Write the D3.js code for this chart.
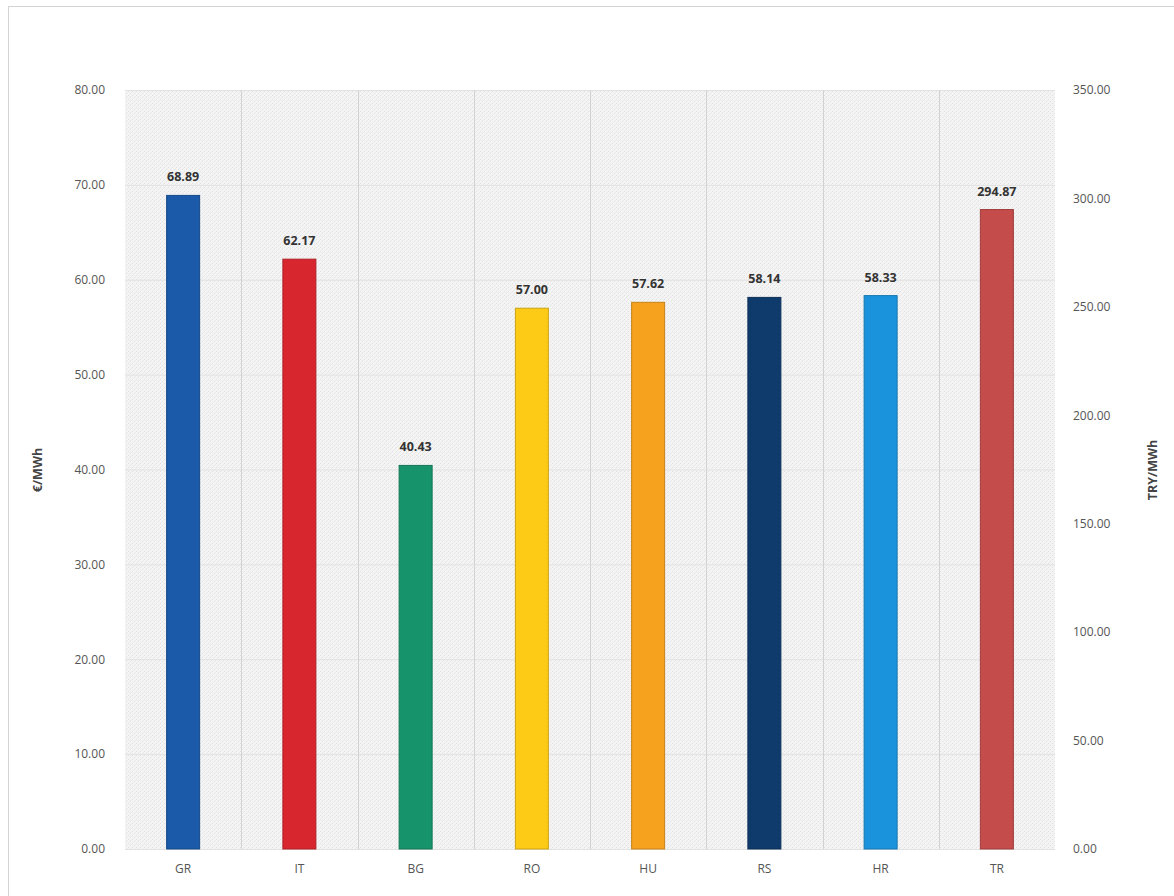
<!DOCTYPE html>
<html><head><meta charset="utf-8">
<script src="https://cdn.jsdelivr.net/npm/d3@7"></script>
<style>body{margin:0;background:#fff}text{font-family:"Open Sans","Noto Sans",sans-serif}</style>
</head><body><svg id="c" width="1174" height="896"></svg>
<script>
const categories = ["GR","IT","BG","RO","HU","RS","HR","TR"];
const values = [68.89, 62.17, 40.43, 57.00, 57.62, 58.14, 58.33, 294.87];
const labels = ["68.89","62.17","40.43","57.00","57.62","58.14","58.33","294.87"];
const onRightAxis = [false,false,false,false,false,false,false,true];
const colors = ["#1a5aa8","#d8262f","#16936a","#fdca16","#f6a21f","#0f3a6c","#1b93dc","#c44c4a"];
const leftTicks = [0,10,20,30,40,50,60,70,80];
const rightTicks = [0,50,100,150,200,250,300,350];

const svg = d3.select("#c");
const m = {l:125, r:1055, t:90, b:849};
const defs = svg.append("defs");
const pat = defs.append("pattern").attr("id","hatch").attr("patternUnits","userSpaceOnUse").attr("width",4).attr("height",4);
pat.append("rect").attr("width",4).attr("height",4).attr("fill","#f4f4f4");
pat.append("path").attr("d","M0,4 L4,0").attr("stroke","#e0e0e0").attr("stroke-width",1).attr("stroke-dasharray","1.5,1");

svg.append("rect").attr("x",8.5).attr("y",6.5).attr("width",1180).attr("height",900).attr("fill","none").attr("stroke","#d4d4d4");

const x = d3.scaleBand().domain(categories).range([m.l,m.r]).paddingInner(0).paddingOuter(0);
const yL = d3.scaleLinear().domain([0,80]).range([m.b,m.t]);
const yR = d3.scaleLinear().domain([0,350]).range([m.b,m.t]);

svg.append("rect").attr("x",m.l).attr("y",m.t).attr("width",m.r-m.l).attr("height",m.b-m.t).attr("fill","url(#hatch)");

svg.append("g").selectAll("line").data(leftTicks).join("line")
  .attr("x1",m.l).attr("x2",m.r).attr("y1",d=>yL(d)+0.5).attr("y2",d=>yL(d)+0.5)
  .attr("stroke","#e2e2e2").attr("stroke-width",1);
svg.append("g").selectAll("line").data(categories.slice(1)).join("line")
  .attr("x1",d=>Math.round(x(d))+0.5).attr("x2",d=>Math.round(x(d))+0.5).attr("y1",m.t).attr("y2",m.b)
  .attr("stroke","#d2d2d2").attr("stroke-width",1);

const bw = 33;
const yOf = (v,i)=> onRightAxis[i] ? yR(v) : yL(v);
svg.append("g").selectAll("rect").data(values).join("rect")
  .attr("x",(d,i)=>x(categories[i])+x.bandwidth()/2-bw/2)
  .attr("y",(d,i)=>yOf(d,i)).attr("width",bw).attr("height",(d,i)=>m.b-yOf(d,i))
  .attr("fill",(d,i)=>colors[i]).attr("stroke",(d,i)=>d3.color(colors[i]).darker(0.6)).attr("stroke-width",1);

svg.append("g").selectAll("text").data(values).join("text")
  .attr("x",(d,i)=>x(categories[i])+x.bandwidth()/2)
  .attr("y",(d,i)=>yOf(d,i)-14)
  .attr("text-anchor","middle").attr("font-size",12.5).attr("font-weight","bold").attr("fill","#333")
  .text((d,i)=>labels[i]);

const gL = svg.append("g").attr("transform",`translate(${m.l-17},0)`)
  .call(d3.axisLeft(yL).tickValues(leftTicks).tickFormat(d3.format(".2f")).tickSize(0));
gL.select(".domain").remove();
gL.selectAll("text").attr("font-size",12).attr("fill","#555").attr("font-family","'Open Sans',sans-serif");

const gR = svg.append("g").attr("transform",`translate(${m.r+15},0)`)
  .call(d3.axisRight(yR).tickValues(rightTicks).tickFormat(d3.format(".2f")).tickSize(0));
gR.select(".domain").remove();
gR.selectAll("text").attr("font-size",12).attr("fill","#555").attr("font-family","'Open Sans',sans-serif");

const gX = svg.append("g").attr("transform",`translate(0,${m.b+12})`)
  .call(d3.axisBottom(x).tickSize(0));
gX.select(".domain").remove();
gX.selectAll("text").attr("font-size",12).attr("fill","#555").attr("font-family","'Open Sans',sans-serif");

svg.append("text").attr("transform","translate(42,470) rotate(-90)").attr("text-anchor","middle")
  .attr("font-size",12.5).attr("font-weight","bold").attr("fill","#444").text("€/MWh");
svg.append("text").attr("transform","translate(1157,470) rotate(-90)").attr("text-anchor","middle")
  .attr("font-size",12.5).attr("font-weight","bold").attr("fill","#444").text("TRY/MWh");
</script></body></html>
